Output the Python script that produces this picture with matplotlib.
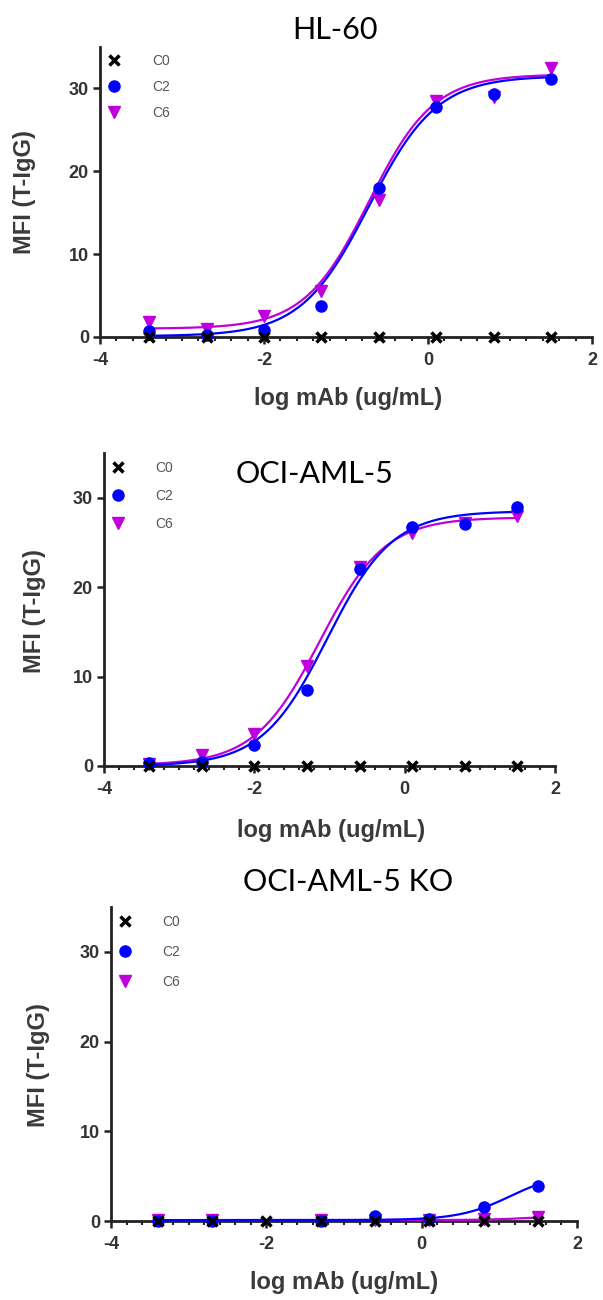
import numpy as np
import matplotlib
matplotlib.use("Agg")
import matplotlib.pyplot as plt
from matplotlib.ticker import MultipleLocator

plt.rcParams["axes.unicode_minus"] = False

# log concentration of mAb (5-fold dilutions)
log_conc = [-3.4, -2.7, -2.0, -1.3, -0.6, 0.1, 0.8, 1.5]

titles = ["HL-60", "OCI-AML-5", "OCI-AML-5 KO"]

# MFI values
c0_vals = [
    [0, 0, 0, 0, 0, 0, 0, 0],
    [0, 0, 0, 0, 0, 0, 0, 0],
    [0, 0, 0, 0, 0, 0, 0, 0],
]
c2_vals = [
    [0.7, 0.3, 0.8, 3.7, 18.0, 27.8, 29.3, 31.1],
    [0.3, 0.5, 2.4, 8.5, 22.0, 26.7, 27.1, 29.0],
    [0.0, 0.0, np.nan, 0.05, 0.6, 0.25, 1.6, 3.9],
]
c6_vals = [
    [1.8, 1.0, 2.5, 5.5, 16.5, 28.5, 29.0, 32.5],
    [0.2, 1.2, 3.6, 11.2, 22.2, 26.0, 27.2, 28.0],
    [0.1, 0.1, np.nan, 0.1, 0.1, 0.1, 0.2, 0.4],
]

# 4-parameter logistic fits: bottom, top, logEC50, hill
c2_fit = [
    [0.1, 31.5, -0.72, 1.05],
    [0.0, 28.5, -1.03, 1.0],
    [0.1, 5.5, 1.15, 1.3],
]
c6_fit = [
    [1.0, 31.7, -0.72, 1.1],
    [0.1, 27.8, -1.13, 1.0],
    [0.1, 0.6, 1.4, 1.5],
]

# axes boxes in figure pixels: left, top, right, bottom
boxes = [(100, 47, 592, 337), (104, 453, 555, 766), (111, 907, 577, 1221)]
title_pos = [(335, 30), (315, 474), (348, 882)]
ylabel_pos = [(25, 192), (34, 611), (38, 1065)]
xlabel_pos = [(348, 399), (331, 831), (344, 1283)]
legend_spacing = [0.85, 1.0, 1.15]

W, H = 603, 1300
BLUE = "#0000FF"
MAG = "#C000DC"


def logistic(x, p):
    b, t, ec, h = p
    return b + (t - b) / (1 + 10 ** ((ec - x) * h))


fig = plt.figure(figsize=(W / 100, H / 100), dpi=100)

for i in range(3):
    l, t, r, b = boxes[i]
    ax = fig.add_axes([l / W, 1 - b / H, (r - l) / W, (b - t) / H])
    x = np.array(log_conc)
    xs = np.linspace(x[0], x[-1], 200)

    ax.plot(xs, logistic(xs, c6_fit[i]), color=MAG, lw=1.6, zorder=3)
    ax.plot(xs, logistic(xs, c2_fit[i]), color=BLUE, lw=1.6, zorder=4)

    h6, = ax.plot(x, c6_vals[i], "v", color=MAG, ms=8, clip_on=False, zorder=5, label="C6")
    h2, = ax.plot(x, c2_vals[i], "o", color=BLUE, ms=8, clip_on=False, zorder=6, label="C2")
    h0, = ax.plot(x, c0_vals[i], "x", color="black", ms=7, mew=2.5, clip_on=False, zorder=7, label="C0")

    ax.set_xlim(-4, 2)
    ax.set_ylim(0, 35)
    ax.set_xticks([-4, -2, 0, 2])
    ax.set_yticks([0, 10, 20, 30])
    ax.xaxis.set_minor_locator(MultipleLocator(0.2))
    for s in ["top", "right"]:
        ax.spines[s].set_visible(False)
    for s in ["left", "bottom"]:
        ax.spines[s].set_linewidth(2)
        ax.spines[s].set_color("#222222")
    ax.tick_params(which="major", length=5, width=1.8, color="#222222", direction="out",
                   labelsize=13, labelcolor="#333333")
    ax.tick_params(axis="x", which="major", pad=6)
    ax.tick_params(axis="y", which="major", pad=3)
    ax.tick_params(which="minor", length=3, width=1.5, color="#222222", direction="out")
    for lab in ax.get_xticklabels() + ax.get_yticklabels():
        lab.set_fontfamily("Liberation Sans")
        lab.set_fontweight("bold")

    leg = ax.legend(handles=[h0, h2, h6], loc="upper left", bbox_to_anchor=(0.015, 0.975),
                    frameon=False, borderaxespad=0, borderpad=0, handlelength=1.0,
                    handletextpad=2.2, labelspacing=legend_spacing[i],
                    prop={"family": "Liberation Sans", "size": 10})
    for txt in leg.get_texts():
        txt.set_color("#555555")

    tx, ty = title_pos[i]
    fig.text(tx / W, 1 - ty / H, titles[i], ha="center", va="center",
             fontsize=22, family="Lato", color="black")
    lx, ly = ylabel_pos[i]
    fig.text(lx / W, 1 - ly / H, "MFI (T-IgG)", ha="center", va="center", rotation=90,
             fontsize=17, family="Liberation Sans", fontweight="bold", color="#3a3a3a")
    lx, ly = xlabel_pos[i]
    fig.text(lx / W, 1 - ly / H, "log mAb (ug/mL)", ha="center", va="center",
             fontsize=17, family="Liberation Sans", fontweight="bold", color="#3a3a3a")

fig.savefig("out.png", dpi=100)
